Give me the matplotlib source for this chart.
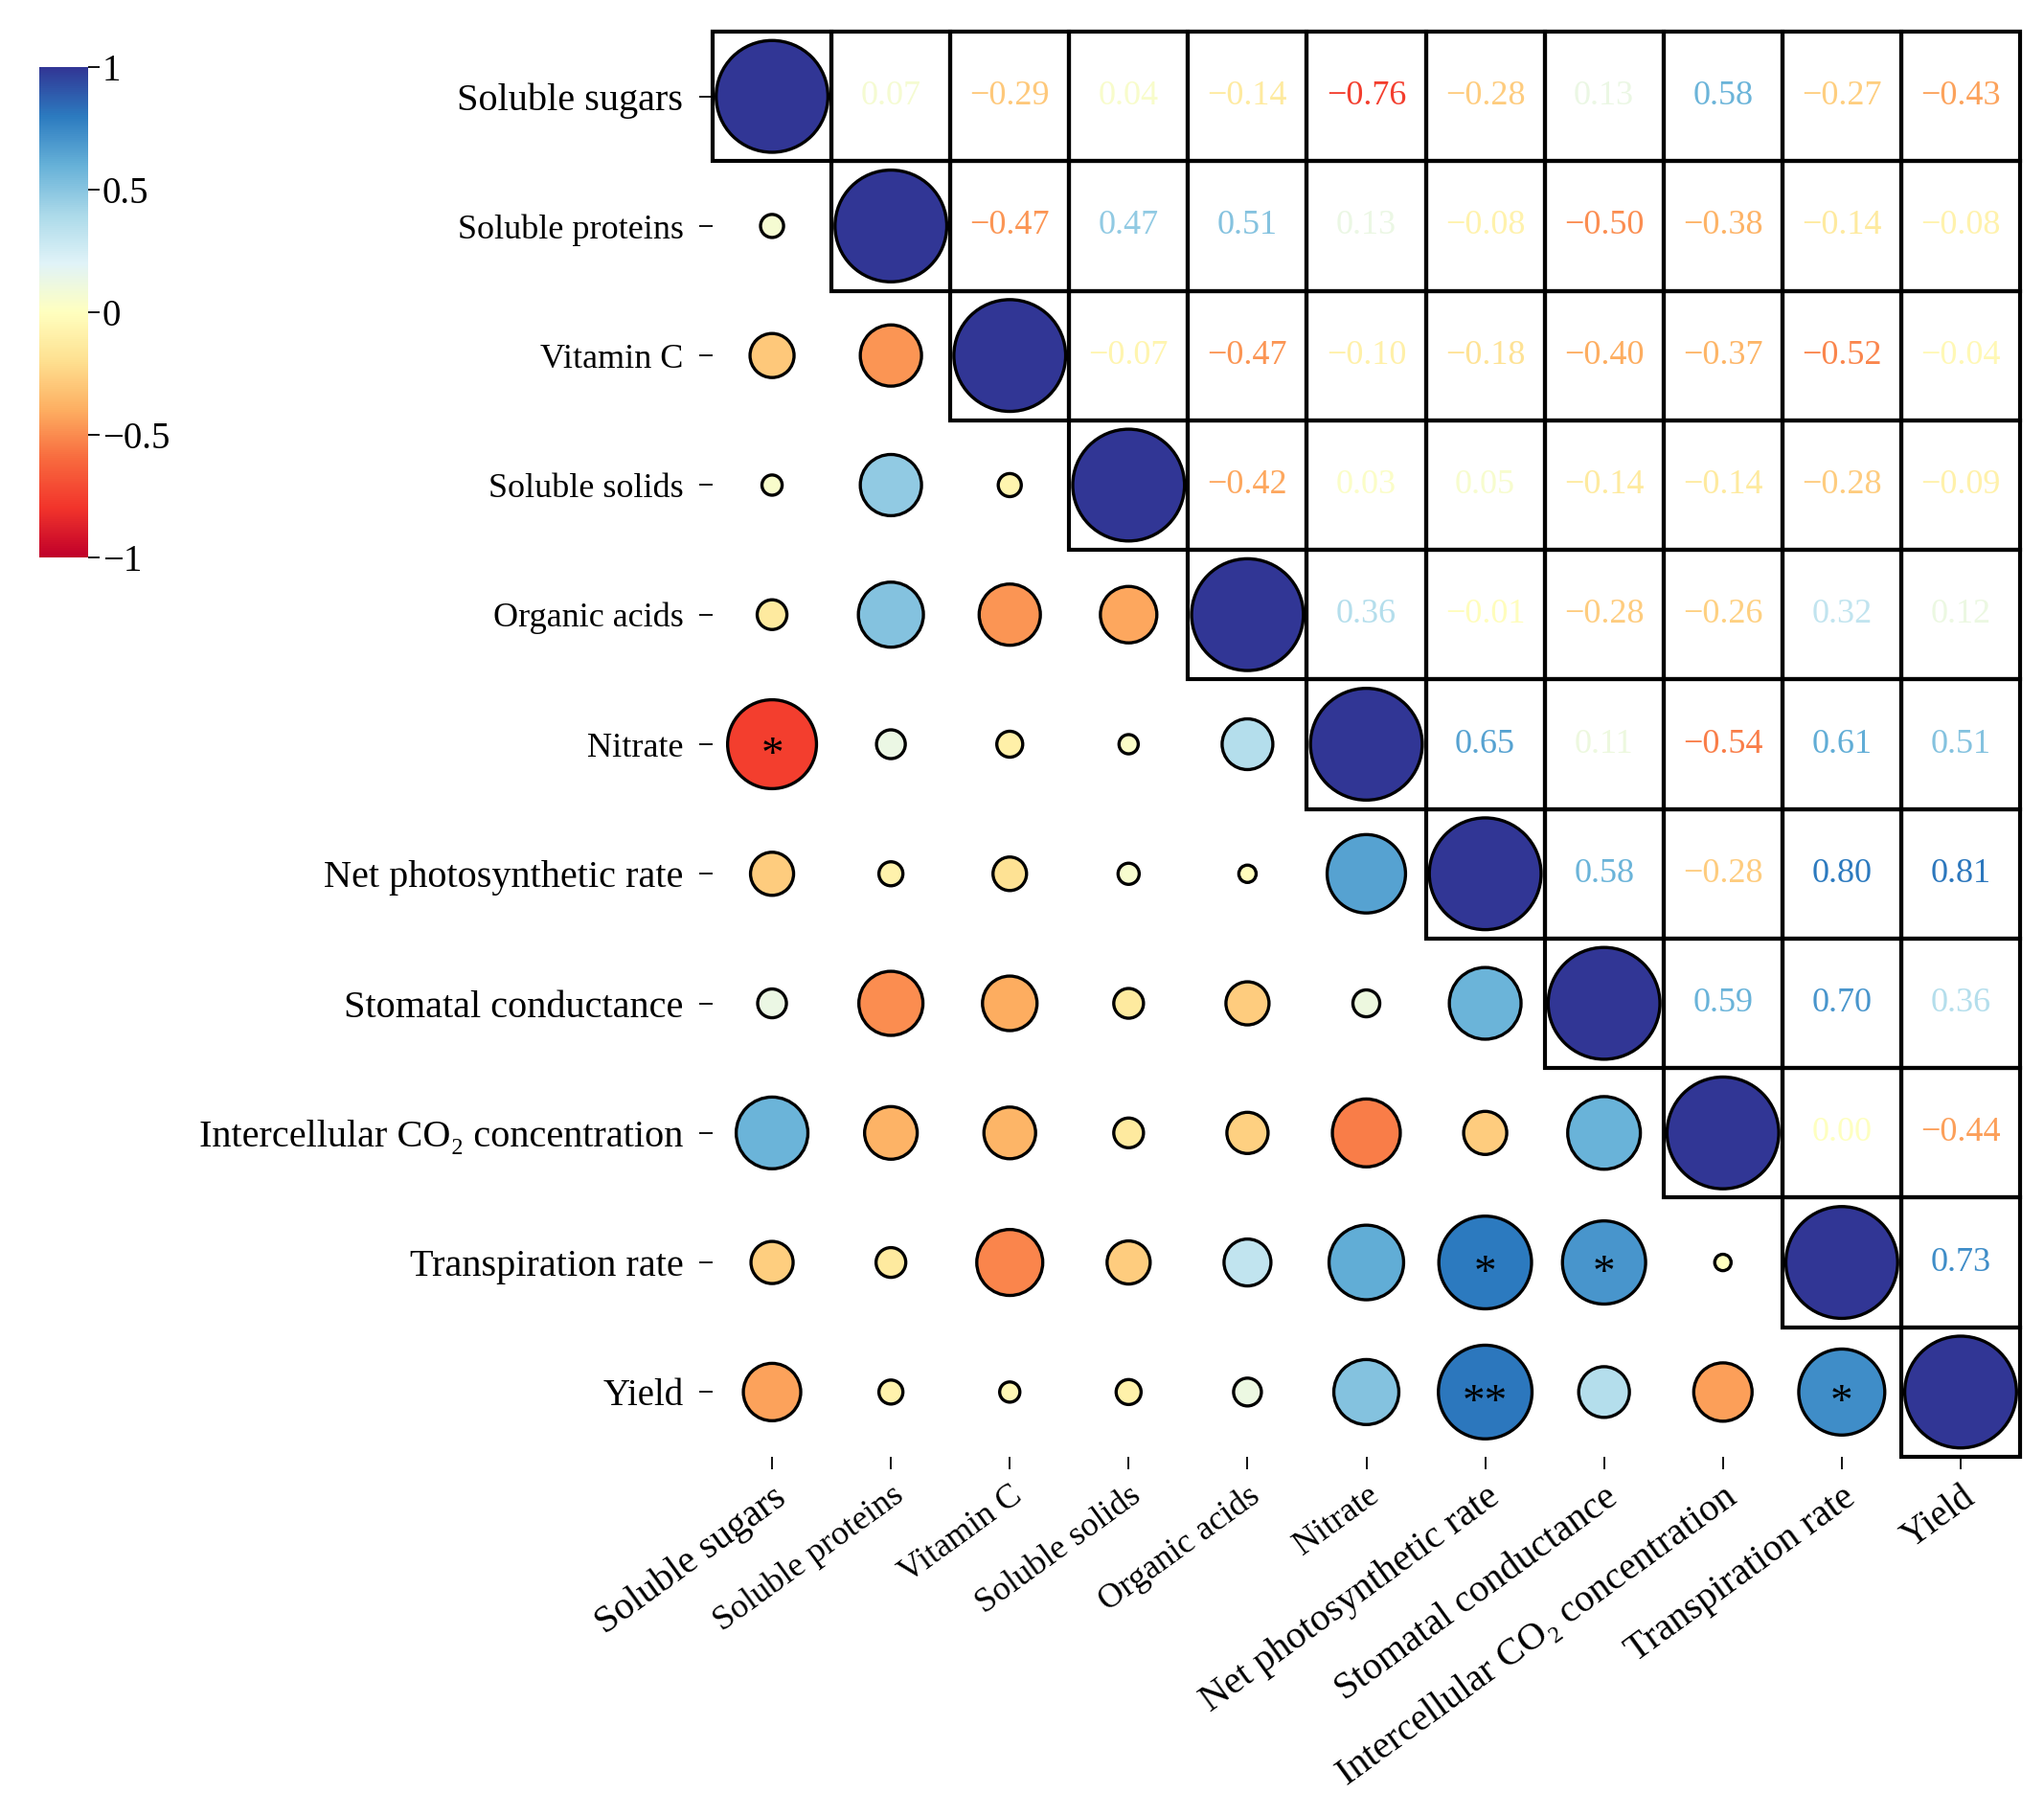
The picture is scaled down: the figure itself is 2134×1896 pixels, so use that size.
import numpy as np
import matplotlib
matplotlib.use("Agg")
import matplotlib.pyplot as plt
from matplotlib.patches import Rectangle
from matplotlib.colors import Normalize, LinearSegmentedColormap
from matplotlib.cm import ScalarMappable
from matplotlib.transforms import offset_copy

plt.rcParams['font.family'] = ['Liberation Serif', 'DejaVu Serif']

labels = ["Soluble sugars", "Soluble proteins", "Vitamin C", "Soluble solids",
          "Organic acids", "Nitrate", "Net photosynthetic rate",
          "Stomatal conductance", "Intercellular CO\u2082 concentration",
          "Transpiration rate", "Yield"]
label_sizes = [29, 26, 26, 26, 26, 26, 29, 29, 29, 29, 28]

# upper-triangle correlation values, row by row (columns to the right of the diagonal)
upper = [
    [0.07, -0.29, 0.04, -0.14, -0.76, -0.28, 0.13, 0.58, -0.27, -0.43],
    [-0.47, 0.47, 0.51, 0.13, -0.08, -0.50, -0.38, -0.14, -0.08],
    [-0.07, -0.47, -0.10, -0.18, -0.40, -0.37, -0.52, -0.04],
    [-0.42, 0.03, 0.05, -0.14, -0.14, -0.28, -0.09],
    [0.36, -0.01, -0.28, -0.26, 0.32, 0.12],
    [0.65, 0.11, -0.54, 0.61, 0.51],
    [0.58, -0.28, 0.80, 0.81],
    [0.59, 0.70, 0.36],
    [0.00, -0.44],
    [0.73],
]
# significance marks (row, col) in the lower triangle
star_rows = [5, 9, 9, 10, 10]
star_cols = [0, 6, 7, 6, 9]
star_marks = ["*", "*", "*", "**", "*"]

cmap_colors = ["#c0002a", "#f2342b", "#f86a3e", "#fdae61", "#fee090", "#ffffbf",
               "#e0f3f8", "#abd9e9", "#66b1d8", "#2c7bc0", "#313695"]

n = len(labels)
r = np.eye(n)
for i, row in enumerate(upper):
    for k, v in enumerate(row):
        j = i + 1 + k
        r[i, j] = v
        r[j, i] = v

W, H, DPI = 2134, 1896, 100
fig = plt.figure(figsize=(W / DPI, H / DPI), dpi=DPI)
ax = fig.add_axes([744 / W, 1 - 1521 / H, 1365 / W, 1488 / H])
ax.set_xlim(-0.5, n - 0.5)
ax.set_ylim(n - 0.5, -0.5)

cmap = LinearSegmentedColormap.from_list("rdylbu_ref", cmap_colors)
norm = Normalize(-1, 1)

# boxes on upper triangle incl. diagonal
for i in range(n):
    for j in range(i, n):
        ax.add_patch(Rectangle((j - 0.5, i - 0.5), 1, 1, fill=False, ec="black",
                               lw=3.0, zorder=2, clip_on=False))

# circles on lower triangle incl. diagonal
xs, ys, vs = [], [], []
for i in range(n):
    for j in range(i + 1):
        xs.append(j)
        ys.append(i)
        vs.append(r[i, j])
vs = np.array(vs)
outer_px = 120 * (0.17 + 0.83 * np.abs(vs))
sizes = ((outer_px - 3.3) * 72 / DPI) ** 2
ax.scatter(xs, ys, s=sizes, c=vs, cmap=cmap, norm=norm, edgecolors="black",
           linewidths=2.4, zorder=3, clip_on=False)

# numbers on upper triangle
for i in range(n):
    for j in range(i + 1, n):
        v = r[i, j]
        ax.text(j, i, f"{v:.2f}".replace("-", "\u2212"), ha="center", va="center",
                color=cmap(norm(v)), fontsize=26, zorder=4)

# stars
trans = offset_copy(ax.transData, fig=fig, x=0, y=-9, units="points")
for i, j, m in zip(star_rows, star_cols, star_marks):
    ax.text(j, i, m, ha="center", va="center", fontsize=34, color="black",
            transform=trans, zorder=5)

for s in ax.spines.values():
    s.set_visible(False)
ax.set_xticks(range(n))
ax.set_yticks(range(n))
ax.set_xticklabels(labels, rotation=36, ha="right", rotation_mode="anchor")
ax.set_yticklabels(labels)
for t, fs in zip(ax.get_xticklabels(), label_sizes):
    t.set_fontsize(fs)
for t, fs in zip(ax.get_yticklabels(), label_sizes):
    t.set_fontsize(fs)
ax.tick_params(axis="y", length=10, width=1.3, pad=12)
ax.tick_params(axis="x", length=9, width=1.3, pad=8)

# colorbar
cax = fig.add_axes([41 / W, 1 - 582 / H, 51 / W, 512 / H])
cb = fig.colorbar(ScalarMappable(norm=norm, cmap=cmap), cax=cax)
cb.outline.set_visible(False)
cb.set_ticks([-1, -0.5, 0, 0.5, 1])
cb.set_ticklabels(["\u22121", "\u22120.5", "0", "0.5", "1"])
cax.tick_params(length=8.6, width=1.3, pad=2, labelsize=28)

fig.savefig("out.png", dpi=DPI)
